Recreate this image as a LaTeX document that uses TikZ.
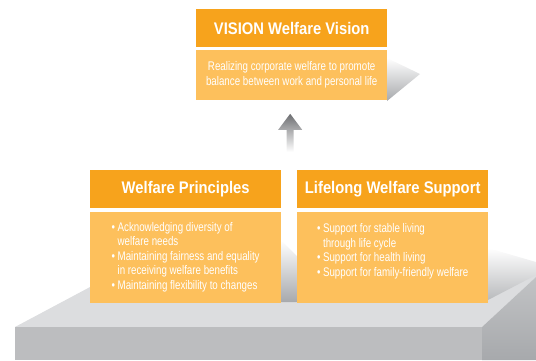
\documentclass[tikz,border=0pt]{standalone}
\usepackage{fontspec}
\setmainfont{Liberation Sans}[FakeStretch=0.88]
\newfontfamily\darYazi{Liberation Sans}[FakeStretch=0.78]
\usepackage{tikz}
\usetikzlibrary{arrows.meta,calc,positioning}
\definecolor{koyuTuruncu}{HTML}{F7A31C}
\definecolor{acikTuruncu}{HTML}{FDC05C}
\definecolor{ustGri}{HTML}{DCDDDF}
\definecolor{onGri}{HTML}{BCBDBF}
\definecolor{yanGri}{HTML}{A7A9AC}
\definecolor{okGri}{HTML}{6D6E71}
\newcommand{\madde}{\textbullet\hspace{2.5pt}}

\begin{document}
\begin{tikzpicture}[x=1pt, y=-1pt,
  baslik/.style={fill=koyuTuruncu,text=white,font=\fontsize{16.8}{18}\selectfont\bfseries,
                 minimum width=191pt,minimum height=38pt,inner sep=0pt,anchor=north west},
  govde/.style={fill=acikTuruncu,text=white,font=\fontsize{12.5}{14.5}\selectfont\darYazi,
                minimum width=191pt,inner sep=0pt}]
\useasboundingbox (0,0) rectangle (536,360);
% zemin
\fill[ustGri] (15,327) -- (482,327) -- (536,277) -- (536,262) -- (137,262) -- cycle;
\fill[onGri] (15,327) rectangle (482,360);
\shade[top color=yanGri!70, bottom color=yanGri] (482,327) -- (536,277) -- (536,360) -- (482,360) -- cycle;
% golgeler
\shade[top color=white, bottom color=yanGri] (387,58) -- (420,74) -- (387,101) -- cycle;
\shade[top color=white, bottom color=yanGri] (281,240) -- (297,256) -- (297,302) -- (281,302) -- cycle;
\shade[top color=white, bottom color=yanGri!80] (488,248) -- (536,262) -- (536,275) -- (488,300) -- cycle;
% kutular
\node[baslik] (vb) at (196,9) {VISION Welfare Vision};
\node[govde,minimum height=50pt,below=2pt of vb,align=center] (vg)
  {Realizing corporate welfare to promote\\ balance between work and personal life};
\node[baslik] (ib) at (90,170) {Welfare Principles};
\node[govde,minimum height=91pt,below=3pt of ib,align=left] (ig)
  {\madde Acknowledging diversity of\\ \phantom{\madde}welfare needs\\
   \madde Maintaining fairness and equality\\ \phantom{\madde}in receiving welfare benefits\\
   \madde Maintaining flexibility to changes};
\node[baslik] (db) at (297,170) {Lifelong Welfare Support};
\node[govde,minimum height=91pt,below=3pt of db,align=left] (dg)
  {\madde Support for stable living\\ \phantom{\madde}through life cycle\\
   \madde Support for health living\\ \madde Support for family-friendly welfare\\ \mbox{}};
% ok
\coordinate (okUcu) at ($(vg.south)+(-1.5,14)$);
\shade[top color=okGri, middle color=okGri!80, bottom color=white]
  (okUcu) -- ++(12,16) -- ++(-8.5,0) -- ++(0,22) -- ++(-7,0) -- ++(0,-22) -- ++(-8.5,0) -- cycle;
\end{tikzpicture}
\end{document}
